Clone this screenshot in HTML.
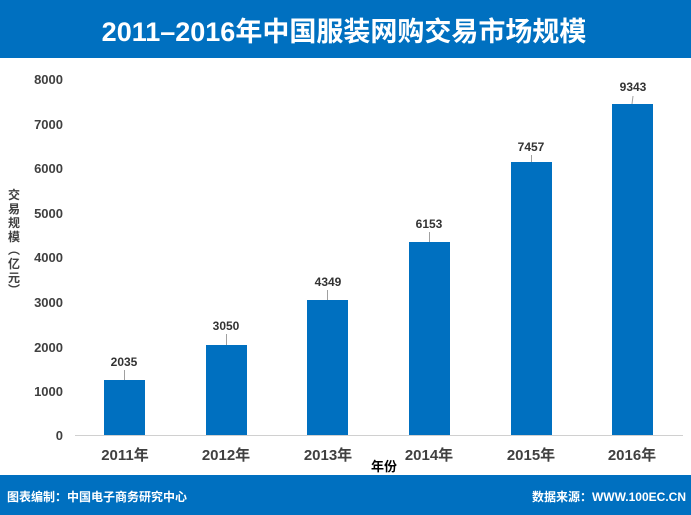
<!DOCTYPE html>
<html><head><meta charset="utf-8"><style>
body{margin:0;width:691px;height:515px;overflow:hidden;background:#fff;font-family:"Liberation Sans","Noto Sans CJK SC",sans-serif}
</style></head><body>
<svg width="691" height="515" xmlns="http://www.w3.org/2000/svg" style="display:block">
<rect x="0" y="0" width="691" height="58" fill="#0070C0"/>
<text x="344" y="41" text-anchor="middle" fill="#fff" font-size="27" font-weight="bold" font-family="Liberation Sans,Noto Sans CJK SC,sans-serif">2011–2016年中国服装网购交易市场规模</text>
<g font-size="13" font-weight="bold" fill="#404040" text-anchor="end" font-family="Liberation Sans,sans-serif">
<text x="63" y="84">8000</text><text x="63" y="129">7000</text><text x="63" y="173">6000</text>
<text x="63" y="218">5000</text><text x="63" y="262">4000</text><text x="63" y="307">3000</text>
<text x="63" y="352">2000</text><text x="63" y="396">1000</text><text x="63" y="440">0</text>
</g>
<g font-size="12" font-weight="bold" fill="#404040" text-anchor="middle" font-family="Liberation Sans,Noto Sans CJK SC,sans-serif">
<text x="14" y="199">交</text><text x="14" y="213">易</text><text x="14" y="227">规</text><text x="14" y="241">模</text>
<text x="14" y="254">︵</text><text x="14" y="268">亿</text><text x="14" y="282">元</text><text x="14" y="294">︶</text>
</g>
<line x1="75" y1="435.5" x2="683" y2="435.5" stroke="#d0d0d0" stroke-width="1"/>
<g fill="#0070C0">
<rect x="104" y="380" width="41" height="55"/>
<rect x="206" y="345" width="41" height="90"/>
<rect x="307" y="300" width="41" height="135"/>
<rect x="409" y="242" width="41" height="193"/>
<rect x="511" y="162" width="41" height="273"/>
<rect x="612" y="104" width="41" height="331"/>
</g>
<g stroke="#a0a0a0" stroke-width="1">
<line x1="124.5" y1="380" x2="124.5" y2="370"/>
<line x1="226.5" y1="345" x2="226.5" y2="334"/>
<line x1="327.5" y1="300" x2="327.5" y2="290"/>
<line x1="429.5" y1="242" x2="429.5" y2="232"/>
<line x1="531.5" y1="162" x2="531.5" y2="155"/>
<line x1="632" y1="104" x2="633" y2="96"/>
</g>
<g font-size="12" font-weight="bold" fill="#333" text-anchor="middle" font-family="Liberation Sans,sans-serif">
<text x="124" y="366">2035</text><text x="226" y="330">3050</text><text x="328" y="286">4349</text>
<text x="429" y="228">6153</text><text x="531" y="151">7457</text><text x="633" y="91">9343</text>
</g>
<g font-size="15" font-weight="bold" fill="#404040" text-anchor="middle" font-family="Liberation Sans,Noto Sans CJK SC,sans-serif">
<text x="125" y="460">2011年</text><text x="226" y="460">2012年</text><text x="328" y="460">2013年</text>
<text x="429" y="460">2014年</text><text x="531" y="460">2015年</text><text x="632" y="460">2016年</text>
</g>
<text x="384" y="471" text-anchor="middle" font-size="13" font-weight="bold" fill="#000" font-family="Liberation Sans,Noto Sans CJK SC,sans-serif">年份</text>
<rect x="0" y="475" width="691" height="40" fill="#0070C0"/>
<text x="7" y="501" font-size="12" font-weight="bold" fill="#fff" font-family="Liberation Sans,Noto Sans CJK SC,sans-serif">图表编制：中国电子商务研究中心</text>
<text x="686" y="501" text-anchor="end" font-size="12" font-weight="bold" fill="#fff" font-family="Liberation Sans,Noto Sans CJK SC,sans-serif">数据来源：WWW.100EC.CN</text>
</svg>
</body></html>
